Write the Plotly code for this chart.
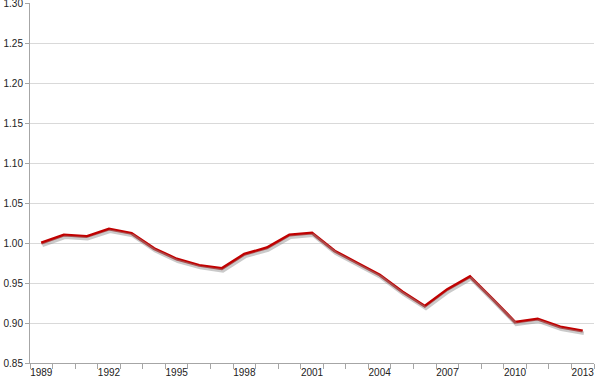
import plotly.graph_objects as go

years = list(range(1989, 2014))
values = [1.000, 1.010, 1.008, 1.0175, 1.012, 0.993, 0.980, 0.972, 0.968, 0.986,
          0.994, 1.010, 1.0125, 0.990, 0.975, 0.960, 0.939, 0.921, 0.942, 0.958,
          0.930, 0.901, 0.905, 0.895, 0.890]
x_labels = [1989, 1992, 1995, 1998, 2001, 2004, 2007, 2010, 2013]
y_ticks = [0.85, 0.90, 0.95, 1.00, 1.05, 1.10, 1.15, 1.20, 1.25, 1.30]

font = dict(family="Liberation Sans, Arial, sans-serif", size=10, color="#222222")

fig = go.Figure()
# soft shadow (same data, drawn on slightly shifted overlay axes)
fig.add_trace(go.Scatter(x=years, y=values, mode="lines", xaxis="x2", yaxis="y2",
                         line=dict(color="rgba(150,150,150,0.5)", width=3.5),
                         hoverinfo="skip", showlegend=False))
fig.add_trace(go.Scatter(x=years, y=values, mode="lines",
                         line=dict(color="#c00000", width=3), showlegend=False))

xr = [1988.5, 2013.5]
yr = [0.85, 1.30]
fig.update_layout(
    width=595, height=382,
    margin=dict(l=30, r=1, t=3, b=19),
    paper_bgcolor="white", plot_bgcolor="white",
    font=font,
    xaxis=dict(range=xr, tickvals=x_labels, ticktext=[str(v) for v in x_labels],
               ticks="", showgrid=False, showline=True, linecolor="#a6a6a6", linewidth=1,
               tickfont=font, zeroline=False, automargin=False, ticklabeloverflow="allow",
               minor=dict(ticks="outside", ticklen=5, tickcolor="#a6a6a6",
                          tick0=1988.5, dtick=1, showgrid=False)),
    yaxis=dict(range=yr, tickvals=y_ticks, ticktext=[f"{v:.2f}" for v in y_ticks],
               showgrid=True, gridcolor="#d9d9d9", gridwidth=1,
               showline=True, linecolor="#a6a6a6", linewidth=1,
               ticks="outside", ticklen=4, tickcolor="#a6a6a6",
               tickfont=font, zeroline=False, automargin=False, ticklabeloverflow="allow"),
    xaxis2=dict(range=[xr[0] - 0.05, xr[1] - 0.05], overlaying="x", visible=False),
    yaxis2=dict(range=[yr[0] + 0.0028, yr[1] + 0.0028], overlaying="y", visible=False),
)

fig.write_html("out.html", config={"displayModeBar": False},
               post_script="document.body.style.margin='0';document.body.style.padding='0';")
